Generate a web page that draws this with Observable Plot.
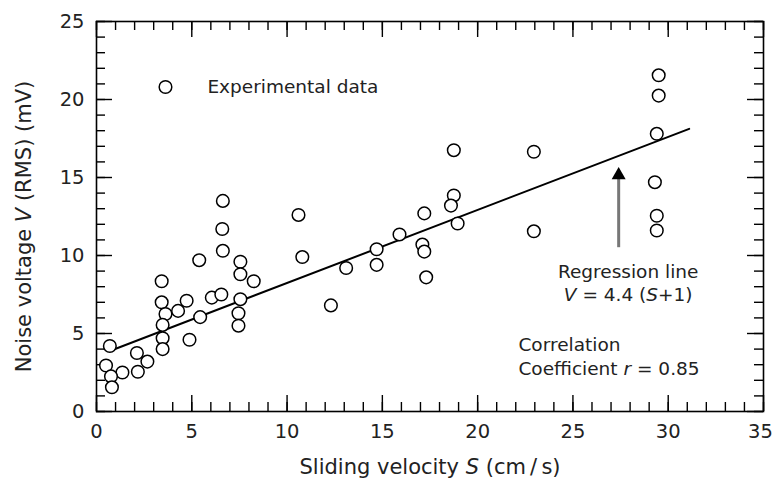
<!DOCTYPE html>
<html><head><meta charset="utf-8">
<script src="https://cdn.jsdelivr.net/npm/d3@7"></script>
<script src="https://cdn.jsdelivr.net/npm/@observablehq/plot@0.6"></script>
<style>
body{margin:0;background:#fff;}
svg text{font-family:"DejaVu Sans",sans-serif;}
</style></head><body><div id="chart"></div>
<script>
// Sliding velocity S (cm/s)
const velocity = [6.63, 6.6, 6.63, 5.39, 7.55, 7.55, 8.25, 3.42, 6.05, 6.55, 7.55, 4.73, 3.42, 4.28, 3.62, 7.45, 7.45, 3.47, 5.44, 3.47, 3.47, 4.88, 0.7, 2.12, 2.67, 0.5, 1.36, 2.17, 0.76, 0.81,
  10.6, 10.8, 12.3, 13.1, 14.7, 14.7, 15.9, 17.2, 17.1, 17.2, 17.3, 18.75, 18.6, 18.95, 18.75, 22.95, 22.95, 29.5, 29.5, 29.4, 29.3, 29.4, 29.4];
// Noise voltage V (RMS) (mV)
const voltage = [13.5, 11.7, 10.3, 9.7, 9.6, 8.8, 8.35, 8.35, 7.3, 7.5, 7.2, 7.1, 7.0, 6.45, 6.25, 6.3, 5.5, 5.55, 6.05, 4.7, 4.0, 4.6, 4.2, 3.75, 3.2, 2.95, 2.5, 2.55, 2.25, 1.55,
  12.6, 9.9, 6.8, 9.2, 10.4, 9.4, 11.35, 12.7, 10.7, 10.25, 8.6, 13.85, 13.2, 12.05, 16.75, 16.65, 11.55, 21.55, 20.25, 17.8, 14.7, 12.55, 11.6];
// Regression line end points (as drawn)
const regS = [0.7, 31.1];
const regV = [3.88, 18.12];
// Tick labels
const xTicks = [0, 5, 10, 15, 20, 25, 30, 35];
const yTicks = [0, 5, 10, 15, 20, 25];
const xMinor = d3.range(0, 36);
const yMinor = d3.range(0, 26);

const points = velocity.map((s, i) => ({S: s, V: voltage[i]}));
const reg = regS.map((s, i) => ({S: s, V: regV[i]}));

const W = 774, H = 481, mL = 96, mR = 11, mT = 21, mB = 70;
const iw = W - mL - mR, ih = H - mT - mB;
const minorLen = 9, majorLen = 16;
const ink = "#222";

const tickStyle = {stroke: "black", strokeWidth: 1.4};
const labelStyle = {tickSize: 0, fontSize: 19.5, fill: ink, label: null};
const chart = Plot.plot({
  width: W, height: H,
  marginLeft: mL, marginRight: mR, marginTop: mT, marginBottom: mB,
  x: {domain: [0, 35]},
  y: {domain: [0, 25]},
  style: {fontFamily: "DejaVu Sans, sans-serif", background: "white"},
  marks: [
    // inward ticks on all four sides
    Plot.tickX(xMinor, {x: d => d, insetTop: ih - minorLen, ...tickStyle}),
    Plot.tickX(xMinor, {x: d => d, insetBottom: ih - minorLen, ...tickStyle}),
    Plot.tickX(xTicks, {x: d => d, insetTop: ih - majorLen, ...tickStyle}),
    Plot.tickX(xTicks, {x: d => d, insetBottom: ih - majorLen, ...tickStyle}),
    Plot.tickY(yMinor, {y: d => d, insetRight: iw - minorLen, ...tickStyle}),
    Plot.tickY(yMinor, {y: d => d, insetLeft: iw - minorLen, ...tickStyle}),
    Plot.tickY(yTicks, {y: d => d, insetRight: iw - majorLen, ...tickStyle}),
    Plot.tickY(yTicks, {y: d => d, insetLeft: iw - majorLen, ...tickStyle}),
    Plot.frame({stroke: "black", strokeWidth: 1.6}),
    Plot.axisX({ticks: xTicks.slice(0, -1), tickPadding: 13, ...labelStyle}),
    Plot.axisX({ticks: xTicks.slice(-1), tickPadding: 13, dx: -3, ...labelStyle}),
    Plot.axisY({ticks: yTicks, tickPadding: 12, ...labelStyle}),
    // axis titles
    Plot.text([0], {frameAnchor: "bottom", dy: 56, text: () => "Sliding velocity S (cm\u2009/\u2009s)", fontSize: 21, fill: ink, lineAnchor: "middle", textAnchor: "middle"}),
    Plot.text([0], {frameAnchor: "left", dx: -72, dy: 10, rotate: -90, text: () => "Noise voltage V (RMS) (mV)", fontSize: 21, fill: ink, lineAnchor: "middle", textAnchor: "middle"}),
    // regression line
    Plot.line(reg, {x: "S", y: "V", stroke: "black", strokeWidth: 2}),
    // data points
    Plot.dot(points, {x: "S", y: "V", r: 6.3, stroke: "black", strokeWidth: 1.5, fill: "white"}),
    // legend
    Plot.dot([{S: 3.62, V: 20.8}], {x: "S", y: "V", r: 6.3, stroke: "black", strokeWidth: 1.5, fill: "white"}),
    Plot.text([{S: 5.82, V: 20.8}], {x: "S", y: "V", text: () => "Experimental data", textAnchor: "start", fontSize: 18.5, fill: ink}),
    // arrow
    Plot.ruleX([{S: 27.4, V1: 10.5, V2: 15.2}], {x: "S", y1: "V1", y2: "V2", stroke: "#777", strokeWidth: 3}),
    Plot.dot([{S: 27.4, V: 15.15}], {x: "S", y: "V", symbol: "triangle", r: 5.2, fill: "black", stroke: "none"}),
    // annotations
    Plot.text([{S: 27.9, V: 8.95}], {x: "S", y: "V", text: () => "Regression line", fontSize: 18.5, fill: ink}),
    Plot.text([{S: 27.9, V: 7.45}], {x: "S", y: "V", text: () => "V = 4.4 (S+1)", fontSize: 18.5, fill: ink}),
    Plot.text([{S: 22.14, V: 4.23}], {x: "S", y: "V", text: () => "Correlation", textAnchor: "start", fontSize: 18.5, fill: ink}),
    Plot.text([{S: 22.14, V: 2.69}], {x: "S", y: "V", text: () => "Coefficient r = 0.85", textAnchor: "start", fontSize: 18.5, fill: ink})
  ]
});

// italic variables in texts
const italics = {
  "Sliding velocity S (cm\u2009/\u2009s)": [["Sliding velocity ", 0], ["S", 1], [" (cm\u2009/\u2009s)", 0]],
  "Noise voltage V (RMS) (mV)": [["Noise voltage ", 0], ["V", 1], [" (RMS) (mV)", 0]],
  "V = 4.4 (S+1)": [["V", 1], [" = 4.4 (", 0], ["S", 1], ["+1)", 0]],
  "Coefficient r = 0.85": [["Coefficient ", 0], ["r", 1], [" = 0.85", 0]]
};
chart.querySelectorAll("text").forEach(t => {
  const parts = italics[t.textContent];
  if (!parts) return;
  while (t.firstChild) t.removeChild(t.firstChild);
  for (const [s, it] of parts) {
    const ts = document.createElementNS("http://www.w3.org/2000/svg", "tspan");
    ts.textContent = s;
    if (it) ts.setAttribute("font-style", "italic");
    t.appendChild(ts);
  }
});
document.getElementById("chart").appendChild(chart);
</script></body></html>
